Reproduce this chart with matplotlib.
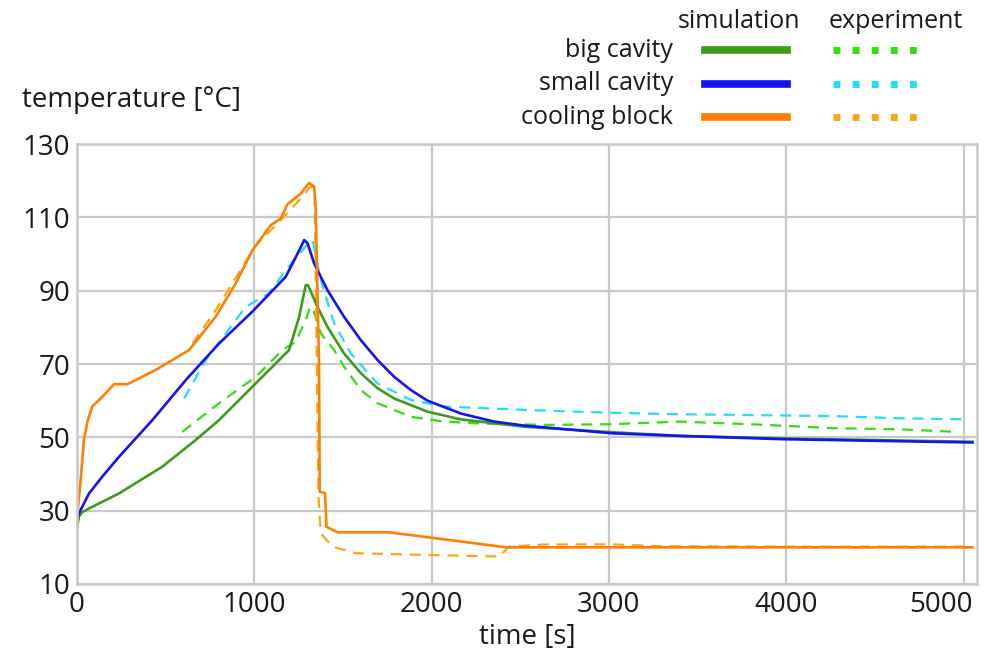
import matplotlib.pyplot as plt
import matplotlib.transforms as mtransforms
from matplotlib.lines import Line2D

plt.rcParams['font.family'] = ['Open Sans', 'DejaVu Sans']

# big cavity - simulation / experiment
big_sim_t = [0, 11, 30, 68, 237, 481, 670, 801, 989, 1196, 1253, 1290, 1303, 1356,
             1412, 1506, 1601, 1695, 1789, 1977, 2165, 2522, 3020, 3397, 3980, 5050]
big_sim_T = [25.2, 28.4, 29.6, 30.6, 34.7, 42.0, 49.3, 54.7, 63.8, 73.8, 82.9, 91.5, 91.5, 85.6,
             80.2, 72.9, 67.5, 63.4, 60.6, 57.0, 54.9, 52.9, 51.4, 50.4, 49.7, 48.8]
big_exp_t = [594, 801, 1008, 1158, 1234, 1290, 1315, 1330, 1375, 1450, 1506, 1601, 1695,
             1883, 2071, 2259, 2645, 3020, 3397, 3886, 4262, 4638, 4957]
big_exp_T = [51.5, 59.3, 66.5, 73.8, 76.1, 82.0, 85.6, 85.2, 78.4, 73.8, 69.3, 62.9, 59.3,
             55.6, 54.3, 53.8, 53.4, 53.6, 54.3, 53.4, 52.5, 52.2, 51.5]

# small cavity
small_sim_t = [0, 11, 68, 143, 237, 425, 613, 801, 989, 1177, 1253, 1281, 1300, 1337,
               1412, 1506, 1601, 1695, 1789, 1883, 1977, 2165, 2353, 2522, 3020, 3397, 3980, 5050]
small_sim_T = [27.5, 29.3, 34.7, 39.3, 44.7, 54.7, 65.6, 75.6, 84.3, 93.8, 101.0, 103.8, 103.0, 97.5,
               90.2, 82.9, 76.5, 71.1, 66.5, 62.9, 60.0, 56.5, 54.3, 53.2, 51.1, 50.4, 49.5, 48.6]
small_exp_t = [604, 726, 952, 1083, 1177, 1271, 1318, 1330, 1375, 1450, 1544, 1695,
               1883, 2071, 2522, 2945, 3397, 3754, 4262, 4638, 5014]
small_exp_T = [60.6, 71.1, 85.6, 89.3, 95.6, 101.0, 103.8, 103.5, 92.9, 81.1, 72.9, 64.7,
               60.2, 58.4, 57.5, 56.8, 56.3, 56.1, 55.8, 55.2, 54.9]

# cooling block
cool_sim_t = [0, 20, 39, 60, 86, 143, 209, 284, 444, 632, 782, 895, 989, 1093, 1149,
              1187, 1262, 1309, 1337, 1346, 1365, 1369, 1399, 1407, 1469, 1760, 2099, 2419, 3000, 4000, 5050]
cool_sim_T = [28, 38, 49.3, 54.5, 58.4, 61.1, 64.5, 64.5, 68.4, 73.8, 82.9, 92, 101, 107.9, 109.7,
              113.6, 116.5, 119.4, 118.4, 112.9, 70.2, 35.2, 34.7, 25.6, 24.1, 24.1, 22, 20, 20, 20, 20]
cool_exp_t = [651, 782, 933, 1008, 1140, 1253, 1318, 1340, 1362, 1375, 1441, 1572,
              1986, 2381, 2437, 2645, 3019, 3300, 4000, 5050]
cool_exp_T = [75.6, 84.7, 96.5, 102.4, 108.8, 114.7, 118.5, 117.5, 33.8, 23.8, 20.2, 18.4,
              17.9, 17.5, 20.2, 20.8, 20.8, 20.3, 20.2, 20.2]

rows = ['big cavity', 'small cavity', 'cooling block']
sim_colors = ['#3f9b1b', '#1414f0', '#ff8000']
exp_colors = ['#33dd11', '#1ee0f0', '#f6aa10']

sims = [(big_sim_t, big_sim_T), (small_sim_t, small_sim_T), (cool_sim_t, cool_sim_T)]
exps = [(big_exp_t, big_exp_T), (small_exp_t, small_exp_T), (cool_exp_t, cool_exp_T)]

fig = plt.figure(figsize=(9.91, 6.58), dpi=100)
ax = fig.add_axes([0.0777, 0.1125, 0.908, 0.6685])

for (t, T), c in zip(exps, exp_colors):
    ax.plot(t, T, color=c, lw=1.6, dashes=(5, 3.5))
for (t, T), c in zip(sims, sim_colors):
    ax.plot(t, T, color=c, lw=1.9)

ax.set_xlim(0, 5075)
ax.set_ylim(10, 130)
ax.set_xticks([0, 1000, 2000, 3000, 4000, 5000])
ax.set_yticks([10, 30, 50, 70, 90, 110, 130])
ax.grid(True, color='#c8c8c8', lw=1.6)
ax.set_axisbelow(True)
for s in ax.spines.values():
    s.set_color('#c8c8c8')
    s.set_linewidth(1.8)
ax.tick_params(length=0, labelsize=20, pad=5, colors='#1a1a1a')
ax.set_xlabel('time [s]', fontsize=20, labelpad=3, color='#1a1a1a')

# last x label sits left of its gridline, as in the original
last = ax.get_xticklabels()[-1]
last.set_horizontalalignment('right')
last.set_transform(last.get_transform() + mtransforms.ScaledTranslation(0.09, 0, fig.dpi_scale_trans))

fig.text(0.022, 0.848, 'temperature [°C]', fontsize=20, color='#1a1a1a', va='center')

# legend table
fig.text(0.746, 0.967, 'simulation', fontsize=18, ha='center', va='center', color='#1a1a1a')
fig.text(0.904, 0.967, 'experiment', fontsize=18, ha='center', va='center', color='#1a1a1a')
row_y = [0.924, 0.873, 0.822]
for name, y, cs, ce in zip(rows, row_y, sim_colors, exp_colors):
    fig.text(0.679, y, name, fontsize=18, ha='right', va='center', color='#1a1a1a')
    fig.add_artist(Line2D([0.711, 0.794], [y, y], color=cs, lw=5.5, transform=fig.transFigure))
    fig.add_artist(Line2D([0.841, 0.925], [y, y], color=ce, lw=5, dashes=(1, 1.75),
                          transform=fig.transFigure))

fig.savefig('out.png', dpi=100)
